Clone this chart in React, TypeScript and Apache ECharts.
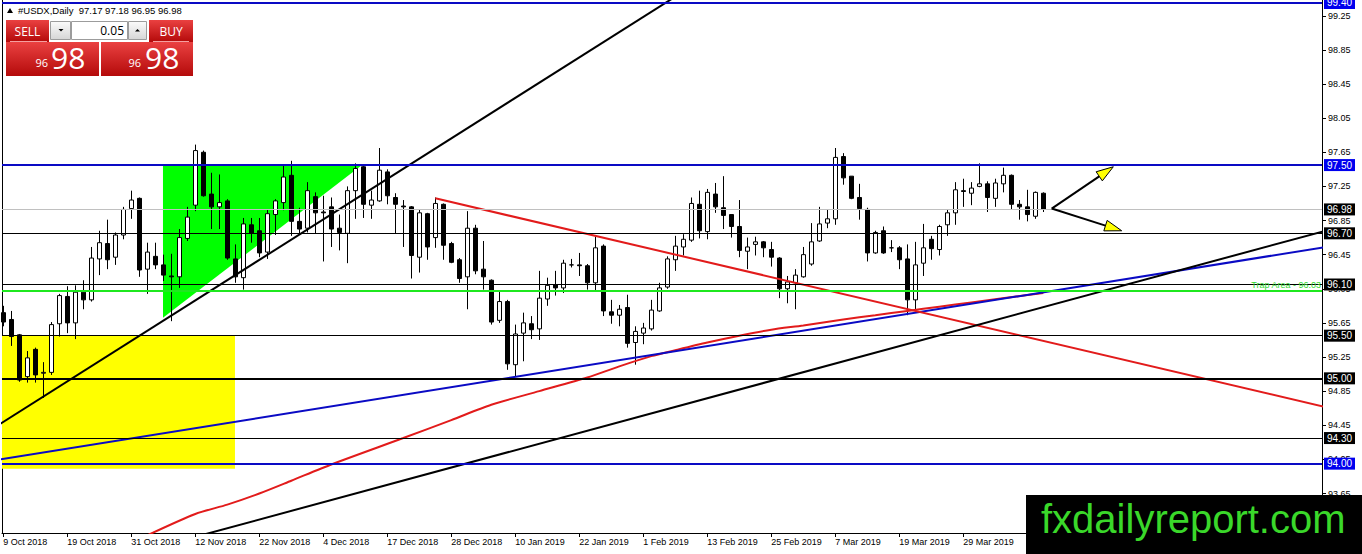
import React, { useEffect, useRef } from "react";
import * as echarts from "echarts";

// ---------- daily candles, 9 Oct 2018 .. 12 Apr 2019 (bar index 0..130) ----------
const OPEN = [
  95.77, 95.69, 95.51, 95.02, 95.34, 95.06, 95.07, 95.64, 95.96, 95.65,
  96.01, 95.92, 96.40, 96.58, 96.42, 96.68, 96.99, 97.11, 96.28, 96.43,
  96.33, 96.20, 96.19, 96.64, 97.03, 97.65, 97.16, 97.01, 97.08, 96.40,
  96.18, 96.80, 96.73, 96.48, 96.92, 97.06, 97.38, 96.84, 96.76, 97.13,
  96.95, 97.01, 96.76, 96.70, 97.20, 97.48, 97.03, 97.08, 97.42, 97.12,
  97.02, 97.01, 96.42, 96.93, 96.65, 97.04, 96.58, 96.39, 96.19, 96.76,
  96.28, 96.15, 95.68, 95.90, 95.16, 95.53, 95.64, 95.58, 95.93, 96.10,
  96.06, 96.33, 96.33, 96.32, 96.12, 96.55, 95.78, 95.74, 95.83, 95.42,
  95.53, 95.58, 95.79, 96.07, 96.39, 96.54, 96.62, 97.04, 96.72, 97.16,
  97.00, 96.92, 96.78, 96.49, 96.57, 96.60, 96.51, 96.41, 96.05, 96.12,
  96.19, 96.34, 96.61, 96.82, 96.87, 97.60, 97.37, 97.12, 96.98, 96.47,
  96.73, 96.53, 96.53, 96.40, 95.92, 96.35, 96.63, 96.51, 96.80, 96.94,
  97.20, 97.17, 97.25, 97.28, 97.11, 97.28, 97.38, 97.04, 97.01, 96.90,
  97.17,
];
const HIGH = [
  95.85, 95.79, 95.52, 95.32, 95.36, 95.19, 95.66, 95.99, 96.08, 96.09,
  96.15, 96.54, 96.73, 96.86, 96.71, 97.01, 97.20, 97.12, 96.59, 96.59,
  96.45, 96.46, 96.75, 97.01, 97.74, 97.67, 97.41, 97.39, 97.10, 96.57,
  96.88, 96.88, 96.88, 96.98, 97.10, 97.51, 97.55, 97.00, 97.30, 97.18,
  97.14, 97.12, 96.92, 97.25, 97.52, 97.49, 97.20, 97.70, 97.45, 97.17,
  97.09, 97.02, 96.98, 96.94, 97.12, 97.05, 96.60, 96.41, 96.96, 96.80,
  96.61, 96.16, 96.02, 95.92, 95.63, 95.77, 95.73, 96.26, 96.18, 96.26,
  96.39, 96.40, 96.47, 96.34, 96.66, 96.57, 95.92, 95.86, 95.98, 95.61,
  95.65, 95.92, 96.12, 96.43, 96.67, 96.69, 97.12, 97.20, 97.22, 97.29,
  97.37, 96.92, 97.09, 96.65, 96.66, 96.61, 96.60, 96.42, 96.20, 96.28,
  96.54, 96.82, 97.01, 96.98, 97.70, 97.64, 97.37, 97.28, 97.00, 96.73,
  96.78, 96.62, 96.55, 96.57, 96.60, 96.81, 96.67, 96.80, 96.98, 97.30,
  97.34, 97.30, 97.52, 97.31, 97.34, 97.47, 97.39, 97.09, 97.21, 97.19,
  97.18,
];
const LOW = [
  95.61, 95.38, 94.96, 94.95, 94.95, 94.77, 95.04, 95.49, 95.53, 95.46,
  95.81, 95.90, 96.21, 96.28, 96.33, 96.63, 96.87, 96.19, 95.99, 96.28,
  96.14, 95.67, 96.06, 96.61, 96.96, 97.13, 96.75, 96.75, 96.39, 96.12,
  96.04, 96.59, 96.42, 96.40, 96.68, 96.97, 96.67, 96.69, 96.71, 96.70,
  96.37, 96.54, 96.50, 96.35, 96.87, 96.88, 96.87, 97.07, 97.04, 96.70,
  96.54, 96.17, 96.24, 96.39, 96.53, 96.39, 96.35, 96.12, 95.81, 96.22,
  96.04, 95.63, 95.65, 95.10, 95.02, 95.20, 95.46, 95.45, 95.85, 95.97,
  96.00, 96.30, 96.20, 96.04, 96.03, 95.73, 95.64, 95.61, 95.36, 95.16,
  95.40, 95.56, 95.78, 96.05, 96.26, 96.44, 96.60, 96.64, 96.63, 96.94,
  96.75, 96.65, 96.42, 96.28, 96.44, 96.42, 96.31, 95.94, 95.88, 95.81,
  96.18, 96.32, 96.60, 96.76, 96.80, 97.27, 97.10, 96.86, 96.37, 96.46,
  96.46, 96.48, 96.28, 95.74, 95.81, 96.20, 96.39, 96.44, 96.67, 96.80,
  97.01, 97.03, 97.24, 96.95, 97.01, 97.18, 96.98, 96.86, 96.84, 96.87,
  96.95,
];
const CLOSE = [
  95.66, 95.49, 94.98, 95.24, 95.04, 95.07, 95.63, 95.97, 95.65, 96.01,
  95.92, 96.41, 96.59, 96.39, 96.68, 96.98, 97.09, 96.27, 96.48, 96.33,
  96.21, 96.19, 96.65, 96.89, 97.67, 97.14, 97.01, 97.06, 96.41, 96.19,
  96.81, 96.70, 96.47, 96.93, 97.08, 97.36, 96.84, 96.75, 97.20, 96.94,
  96.94, 96.75, 96.71, 97.20, 97.46, 97.04, 97.09, 97.44, 97.14, 97.04,
  97.01, 96.44, 96.94, 96.54, 97.05, 96.56, 96.36, 96.17, 96.76, 96.26,
  96.19, 95.66, 95.90, 95.17, 95.52, 95.65, 95.57, 95.94, 96.09, 96.06,
  96.35, 96.33, 96.32, 96.12, 96.53, 95.79, 95.74, 95.81, 95.41, 95.55,
  95.59, 95.80, 96.06, 96.40, 96.55, 96.63, 97.05, 96.73, 97.18, 97.01,
  96.91, 96.78, 96.50, 96.54, 96.60, 96.53, 96.42, 96.05, 96.13, 96.21,
  96.45, 96.60, 96.81, 96.87, 97.59, 97.35, 97.11, 96.99, 96.47, 96.71,
  96.47, 96.53, 96.39, 95.92, 96.33, 96.53, 96.52, 96.78, 96.94, 97.21,
  97.19, 97.23, 97.28, 97.12, 97.29, 97.38, 97.04, 97.01, 96.92, 97.18,
  96.98,
];

// x-axis date labels (one every 8 bars)
const TICK_BARS = [0, 8, 16, 24, 32, 40, 48, 56, 64, 72, 80, 88, 96, 104, 112, 120];
const TICK_LABELS = [
  "9 Oct 2018", "19 Oct 2018", "31 Oct 2018", "12 Nov 2018", "22 Nov 2018",
  "4 Dec 2018", "17 Dec 2018", "28 Dec 2018", "10 Jan 2019", "22 Jan 2019",
  "1 Feb 2019", "13 Feb 2019", "25 Feb 2019", "7 Mar 2019", "19 Mar 2019", "29 Mar 2019",
];
// price scale labels
const Y_TICKS = [93.65, 94.05, 94.45, 94.85, 95.25, 95.65, 96.05, 96.45, 96.85, 97.25, 97.65, 98.05, 98.45, 98.85, 99.25];

// red moving average (read at selected bars)
const MA_BARS = [18, 24, 28, 32, 36, 41, 50, 56, 61, 67, 73, 77, 81, 84, 88, 92, 96, 100, 105, 109, 113, 117, 121, 130];
const MA_VALUES = [93.16, 93.41, 93.52, 93.65, 93.80, 93.99, 94.30, 94.51, 94.69, 94.85, 95.01, 95.14, 95.26, 95.33, 95.42, 95.50, 95.57, 95.62, 95.69, 95.74, 95.79, 95.84, 95.89, 96.00];

// trend lines: [bar, price] anchors
const STEEP_LINE = [[-1, 94.43], [90, 99.83]];
const LONG_LINE = [[20, 93.04], [170, 96.85]];
const BLUE_LINE = [[-1, 94.04], [170, 96.61]];
const RED_LINE = [[54, 97.11], [170, 94.56]];

// projection arrows
const ARROW_FROM = [131.05, 96.99];
const ARROW_TIPS = [[138.75, 97.48], [139.8, 96.73]];

// shaded zones
const GREEN_TRIANGLE = [[19.96, 97.5], [44.84, 97.5], [19.96, 95.71]];
const YELLOW_RIGHT_BAR = 28.96;
const YELLOW_TOP = 95.5;
const YELLOW_BOTTOM = 93.94;

// horizontal levels
const LEVEL_VALUES = [99.4, 97.5, 96.98, 96.7, 96.1, 96.03, 95.5, 95.0, 94.3, 94.0];
const LEVEL_KINDS = ["blue", "blue", "current", "black", "black", "trap", "black", "bold", "black", "blue"];

const HEADER = "#USDX,Daily  97.17 97.18 96.95 96.98";

// ---------- layout / style ----------
const FONT = '"Liberation Sans", Arial, sans-serif';
const XMIN = -0.1625;
const XMAX = XMIN + 165;
const YMAX = 99.435;
const YMIN = 93.187;
const BLUE = "#0a0ac4";
const TAG_BLUE = "#0000ee";
const RED = "#e21b1b";

const KIND_STYLE: Record<string, any> = {
  blue: { color: BLUE, width: 2, tag: TAG_BLUE },
  current: { color: "#c0c0c0", width: 1, tag: "#000" },
  black: { color: "#000", width: 1, tag: "#000" },
  bold: { color: "#000", width: 2, tag: "#000" },
  trap: { color: "#1fe81f", width: 2, tag: null },
};

function buildOption() {
  const candles = OPEN.map((o, i) => [i, o, CLOSE[i], LOW[i], HIGH[i]]);

  const markData = LEVEL_VALUES.map((v, k) => {
    const s = KIND_STYLE[LEVEL_KINDS[k]];
    const label =
      s.tag === null
        ? {
            show: true,
            position: "insideEndTop",
            formatter: "Trap Area - " + v.toFixed(2),
            color: "#2fd82f",
            fontSize: 9,
            fontFamily: FONT,
            distance: 1,
          }
        : {
            show: true,
            position: "end",
            formatter: v.toFixed(2),
            color: "#fff",
            backgroundColor: s.tag,
            padding: [1, 3, 0, 3],
            fontSize: 10,
            lineHeight: 11,
            fontFamily: FONT,
            distance: 2,
          };
    return { yAxis: v, lineStyle: { color: s.color, width: s.width, type: "solid" }, label };
  });

  const redGrad = () =>
    new echarts.graphic.LinearGradient(0, 0, 0, 1, [
      { offset: 0, color: "#ea4141" },
      { offset: 1, color: "#b40a0a" },
    ]);
  const greyGrad = () =>
    new echarts.graphic.LinearGradient(0, 0, 0, 1, [
      { offset: 0, color: "#fbfbfb" },
      { offset: 1, color: "#d6d6d6" },
    ]);

  const panel: any[] = [
    // header
    { type: "polygon", shape: { points: [[7, 13], [13, 13], [10, 8]] }, style: { fill: "#000" } },
    { type: "text", style: { text: HEADER, x: 18, y: 10.5, font: `9.5px ${FONT}`, fill: "#000", verticalAlign: "middle" } },
    // sell / buy buttons
    { type: "rect", shape: { x: 6, y: 20, width: 43, height: 22 }, style: { fill: redGrad() } },
    { type: "rect", shape: { x: 149, y: 20, width: 44, height: 22 }, style: { fill: redGrad() } },
    { type: "rect", shape: { x: 6, y: 42, width: 93, height: 34 }, style: { fill: redGrad() } },
    { type: "rect", shape: { x: 101, y: 42, width: 92, height: 34 }, style: { fill: redGrad() } },
    { type: "line", shape: { x1: 10, y1: 41.5, x2: 47, y2: 41.5 }, style: { stroke: "#f4a0a0", lineWidth: 1 } },
    { type: "line", shape: { x1: 153, y1: 41.5, x2: 189, y2: 41.5 }, style: { stroke: "#f4a0a0", lineWidth: 1 } },
    // lot size control
    { type: "rect", shape: { x: 50.5, y: 21.5, width: 20, height: 18 }, style: { fill: greyGrad(), stroke: "#9c9c9c", lineWidth: 1 } },
    { type: "rect", shape: { x: 71.5, y: 21.5, width: 56, height: 18 }, style: { fill: "#fff", stroke: "#9c9c9c", lineWidth: 1 } },
    { type: "rect", shape: { x: 128.5, y: 21.5, width: 18, height: 18 }, style: { fill: greyGrad(), stroke: "#9c9c9c", lineWidth: 1 } },
    { type: "polygon", shape: { points: [[58.5, 29], [63.5, 29], [61, 31.5]] }, style: { fill: "#000" } },
    { type: "polygon", shape: { points: [[135, 31.5], [140, 31.5], [137.5, 29]] }, style: { fill: "#000" } },
    { type: "text", style: { text: "0.05", x: 124, y: 30.5, font: `12px "Open Sans", ${FONT}`, fill: "#000", align: "right", verticalAlign: "middle", lineHeight: 13 } },
    { type: "text", style: { text: "SELL", x: 27.5, y: 31, font: `12px "Open Sans", ${FONT}`, fill: "#fff", align: "center", verticalAlign: "middle", lineHeight: 13 } },
    { type: "text", style: { text: "BUY", x: 171, y: 31, font: `12px "Open Sans", ${FONT}`, fill: "#fff", align: "center", verticalAlign: "middle", lineHeight: 13 } },
    { type: "text", style: { text: "96", x: 35.5, y: 62.5, font: `11px "Open Sans", ${FONT}`, fill: "#fff", verticalAlign: "middle", lineHeight: 12 } },
    { type: "text", style: { text: "98", x: 51, y: 57.5, font: `30px "Open Sans", ${FONT}`, fill: "#fff", verticalAlign: "middle", lineHeight: 26 } },
    { type: "text", style: { text: "96", x: 128.5, y: 62.5, font: `11px "Open Sans", ${FONT}`, fill: "#fff", verticalAlign: "middle", lineHeight: 12 } },
    { type: "text", style: { text: "98", x: 145, y: 57.5, font: `30px "Open Sans", ${FONT}`, fill: "#fff", verticalAlign: "middle", lineHeight: 26 } },
    // watermark
    { type: "rect", shape: { x: 1026, y: 495, width: 336, height: 59 }, style: { fill: "#000" } },
    { type: "text", style: { text: "fxdailyreport.com", x: 1041, y: 519, font: `40px ${FONT}`, fill: "#3ad82a", verticalAlign: "middle" } },
  ].map((e) => ({ ...e, z: 100, silent: true }));

  return {
    animation: false,
    backgroundColor: "#fff",
    textStyle: { fontFamily: FONT },
    grid: { left: 2, right: 40, top: 0, bottom: 21, containLabel: false, outerBoundsMode: "none", show: false },
    xAxis: {
      type: "value",
      min: XMIN,
      max: XMAX,
      axisLine: { show: true, onZero: false, lineStyle: { color: "#000", width: 1 } },
      axisTick: { show: true, customValues: TICK_BARS, length: 4, lineStyle: { color: "#000" } },
      axisLabel: {
        show: true,
        customValues: TICK_BARS,
        formatter: (v: number) => TICK_LABELS[TICK_BARS.indexOf(Math.round(v))] || "",
        align: "left",
        margin: 4,
        color: "#000",
        fontSize: 9,
        fontFamily: FONT,
      },
      splitLine: { show: false },
    },
    yAxis: [
      {
        type: "value",
        position: "right",
        min: YMIN,
        max: YMAX,
        axisLine: { show: true, onZero: false, lineStyle: { color: "#000", width: 1 } },
        axisTick: { show: true, customValues: Y_TICKS, length: 4, lineStyle: { color: "#000" } },
        axisLabel: {
          show: true,
          customValues: Y_TICKS,
          formatter: (v: number) => v.toFixed(2),
          margin: 6,
          color: "#000",
          fontSize: 9,
          fontFamily: FONT,
        },
        splitLine: { show: false },
      },
      {
        type: "value",
        position: "left",
        min: YMIN,
        max: YMAX,
        axisLine: { show: true, onZero: false, lineStyle: { color: "#000", width: 1 } },
        axisTick: { show: false },
        axisLabel: { show: false },
        splitLine: { show: false },
      },
    ],
    series: [
      {
        type: "custom",
        name: "zones",
        z: 1,
        silent: true,
        clip: true,
        data: [[0, 95]],
        renderItem: (_p: any, api: any) => {
          const a = api.coord([XMIN, YELLOW_TOP]);
          const b = api.coord([YELLOW_RIGHT_BAR, YELLOW_BOTTOM]);
          return {
            type: "group",
            children: [
              { type: "rect", shape: { x: a[0], y: a[1], width: b[0] - a[0], height: b[1] - a[1] }, style: { fill: "#ffff00" } },
              { type: "polygon", shape: { points: GREEN_TRIANGLE.map((p) => api.coord(p)) }, style: { fill: "#00ff00" } },
            ],
          };
        },
      },
      {
        type: "candlestick",
        name: "USDX",
        z: 3,
        silent: true,
        data: candles,
        encode: { x: 0, y: [1, 2, 3, 4] },
        barWidth: 4,
        itemStyle: {
          color: "#fff",
          color0: "#000",
          borderColor: "#000",
          borderColor0: "#000",
          borderColorDoji: "#000",
          borderWidth: 1,
        },
        markLine: {
          silent: true,
          symbol: ["none", "none"],
          animation: false,
          lineStyle: { type: "solid" },
          data: markData,
        },
      },
      { type: "line", z: 4, silent: true, data: MA_BARS.map((b, k) => [b, MA_VALUES[k]]), showSymbol: false, smooth: 0.25, lineStyle: { color: RED, width: 2 } },
      { type: "line", z: 4, silent: true, data: BLUE_LINE, showSymbol: false, lineStyle: { color: BLUE, width: 2 } },
      { type: "line", z: 4, silent: true, data: RED_LINE, showSymbol: false, lineStyle: { color: RED, width: 2 } },
      { type: "line", z: 4, silent: true, data: STEEP_LINE, showSymbol: false, lineStyle: { color: "#000", width: 2 } },
      { type: "line", z: 4, silent: true, data: LONG_LINE, showSymbol: false, lineStyle: { color: "#000", width: 2 } },
      {
        type: "custom",
        name: "arrows",
        z: 5,
        silent: true,
        data: [[ARROW_FROM[0], ARROW_FROM[1]]],
        renderItem: (_p: any, api: any) => {
          const s = api.coord(ARROW_FROM);
          const children: any[] = [];
          ARROW_TIPS.forEach((tipVal) => {
            const t = api.coord(tipVal);
            const dx = t[0] - s[0];
            const dy = t[1] - s[1];
            const len = Math.hypot(dx, dy);
            const ux = dx / len;
            const uy = dy / len;
            const hl = 17;
            const hw = 5.5;
            const bx = t[0] - ux * hl;
            const by = t[1] - uy * hl;
            children.push({ type: "line", shape: { x1: s[0], y1: s[1], x2: bx, y2: by }, style: { stroke: "#000", lineWidth: 2 } });
            children.push({
              type: "polygon",
              shape: { points: [[t[0], t[1]], [bx - uy * hw, by + ux * hw], [bx + uy * hw, by - ux * hw]] },
              style: { fill: "#ffff00", stroke: "#000", lineWidth: 1 },
            });
          });
          return { type: "group", children };
        },
      },
    ],
    graphic: { elements: panel },
  };
}

export default function App() {
  const ref = useRef<HTMLDivElement>(null);
  useEffect(() => {
    document.body.style.margin = "0";
    const chart = echarts.init(ref.current as HTMLDivElement, null, { renderer: "svg" });
    chart.setOption(buildOption() as any);
    return () => chart.dispose();
  }, []);
  return <div ref={ref} style={{ width: 1362, height: 554, background: "#fff" }} />;
}
